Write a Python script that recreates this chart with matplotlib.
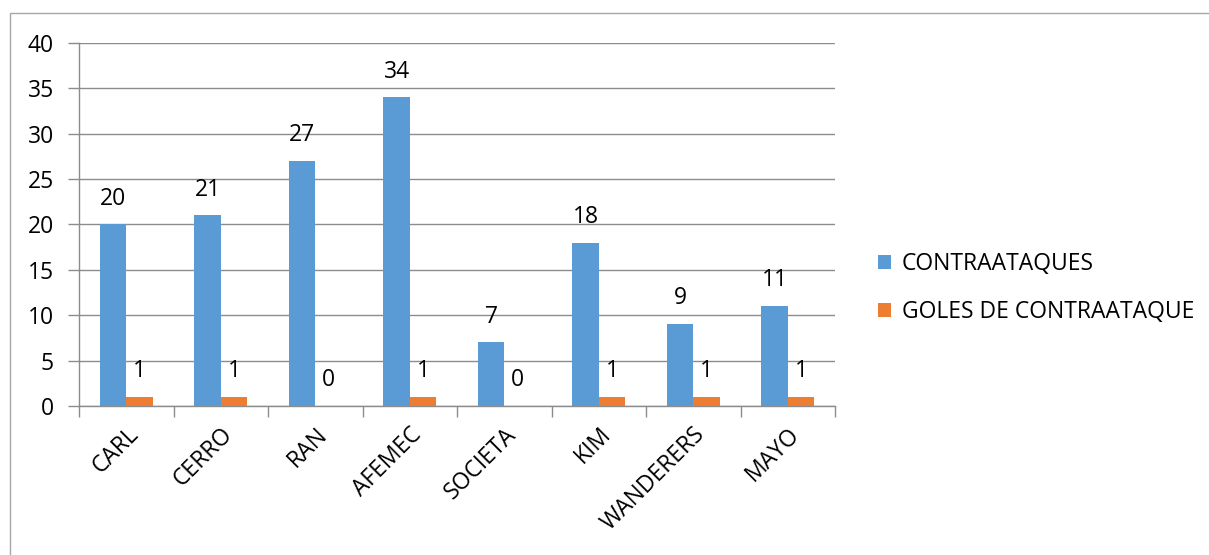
import numpy as np
import matplotlib.pyplot as plt
from matplotlib.patches import Rectangle

# Datos
equipos = ['CARL', 'CERRO', 'RAN', 'AFEMEC', 'SOCIETA', 'KIM', 'WANDERERS', 'MAYO']
contraataques = [20, 21, 27, 34, 7, 18, 9, 11]
goles = [1, 1, 0, 1, 0, 1, 1, 1]

plt.rcParams['font.family'] = ['Open Sans', 'DejaVu Sans']
fs = 16.5

fig = plt.figure(figsize=(12.09, 5.55), dpi=100)
# Marco exterior del gráfico (sale por la derecha y por abajo)
fig.patches.append(Rectangle((10/1209, -0.1), 1.2, 1.1 - 12.5/555, transform=fig.transFigure,
                             fill=False, edgecolor='#a6a6a6', linewidth=1.0))

ax = fig.add_axes([79/1209, 1 - 406/555, (835-79)/1209, (406-43)/555])

x = np.arange(len(equipos))
w = 0.28
azul = '#5b9bd5'
naranja = '#ed7d31'
b1 = ax.bar(x - w/2, contraataques, w, color=azul, label='CONTRAATAQUES', zorder=3)
b2 = ax.bar(x + w/2, goles, w, color=naranja, label='GOLES DE CONTRAATAQUE', zorder=3)

for xi, v in zip(x, contraataques):
    ax.annotate(str(v), (xi - w/2, v), xytext=(0, 10), textcoords='offset points',
                ha='center', va='bottom', fontsize=fs)
for xi, v in zip(x, goles):
    ax.annotate(str(v), (xi + w/2, v), xytext=(0, 10), textcoords='offset points',
                ha='center', va='bottom', fontsize=fs)

ax.set_xlim(-0.5, len(equipos) - 0.5)
ax.set_ylim(0, 40)
ax.set_yticks(range(0, 41, 5))
ax.grid(axis='y', color='#8c8c8c', linewidth=1.0, zorder=0)

# Ticks del eje x en los limites de las categorias
ax.set_xticks(np.arange(-0.5, len(equipos), 1.0))
ax.set_xticklabels([])
ax.set_xticks(x, minor=True)
ax.set_xticklabels(equipos, minor=True, rotation=45, ha='right', rotation_mode='anchor', fontsize=fs)
ax.tick_params(axis='x', which='minor', length=0, pad=12)
ax.tick_params(axis='x', which='major', length=8, color='#8c8c8c', width=1.0)
ax.tick_params(axis='y', length=8, color='#8c8c8c', width=1.0, labelsize=fs, pad=10)

for s in ['top', 'right']:
    ax.spines[s].set_visible(False)
for s in ['left', 'bottom']:
    ax.spines[s].set_color('#8c8c8c')
    ax.spines[s].set_linewidth(1.0)

fig.legend(handles=[b1, b2], loc='center left', bbox_to_anchor=(857/1209, 1 - 288/555),
           frameon=False, fontsize=fs, handlelength=0.6, handleheight=0.6,
           handletextpad=0.45, labelspacing=1.05)

fig.savefig('out.png', dpi=100)
